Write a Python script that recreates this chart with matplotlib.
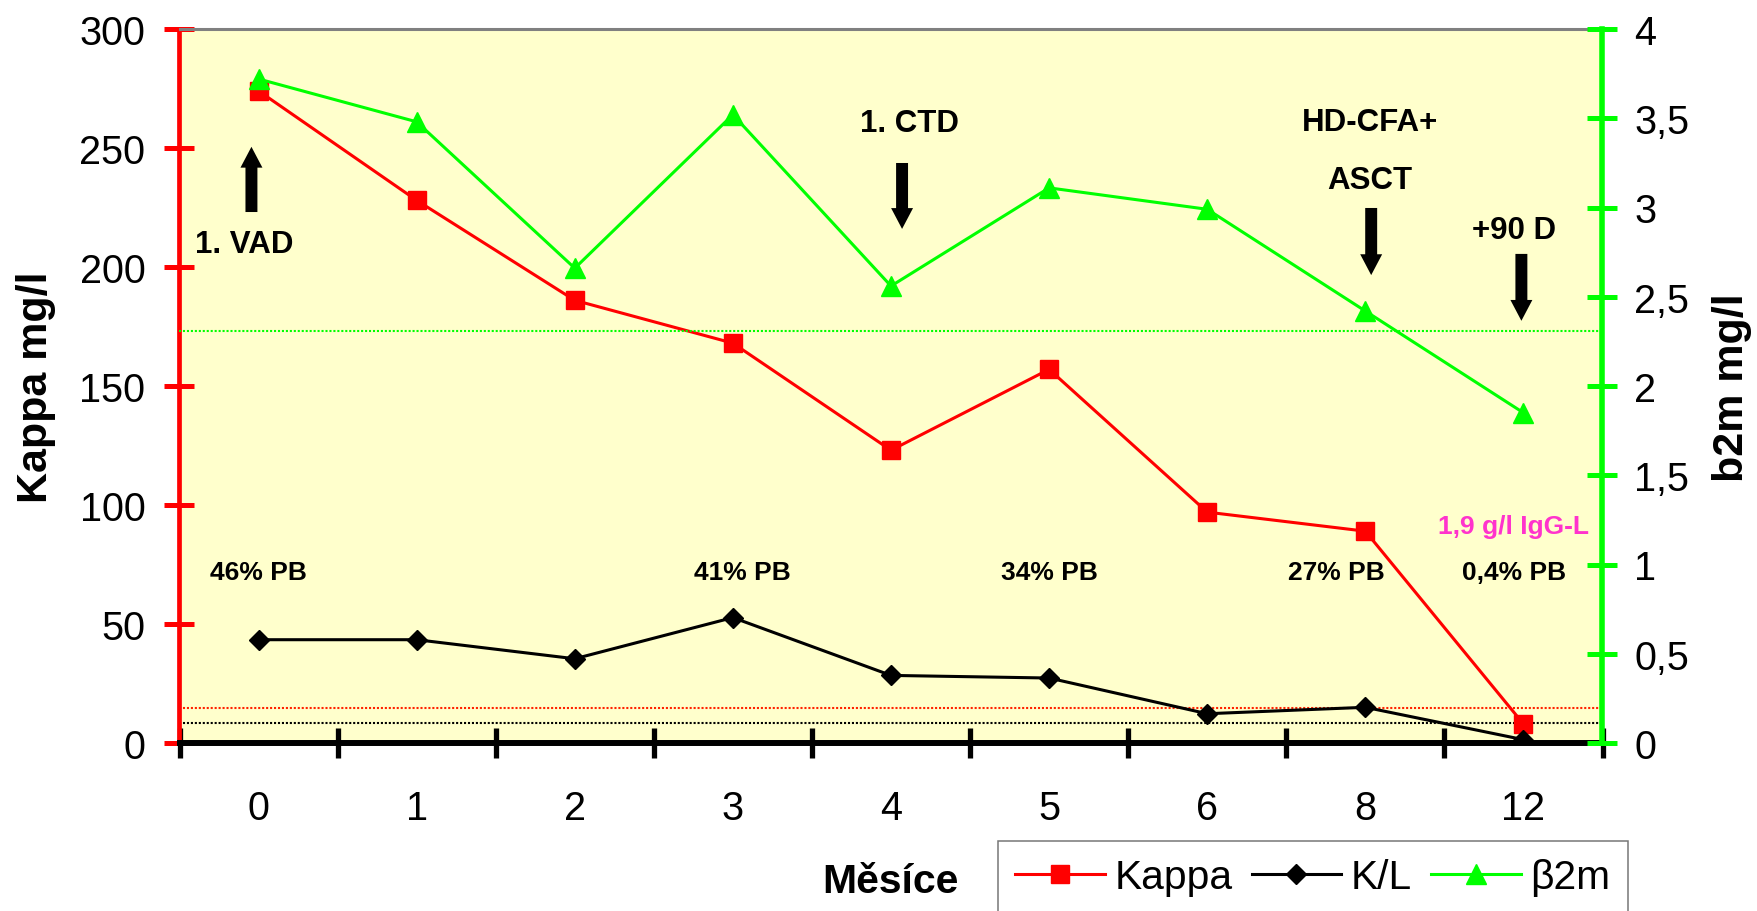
import matplotlib
matplotlib.use('Agg')
import matplotlib.pyplot as plt
import numpy as np

# ---------------- data ----------------
months = ['0', '1', '2', '3', '4', '5', '6', '8', '12']
kappa = [274, 228, 186, 168, 123, 157, 97, 89, 8]
kl_ratio = [43.4, 43.4, 35.4, 52.7, 28.4, 27.3, 12.3, 15.0, 1.4]
b2m = [3.72, 3.48, 2.66, 3.52, 2.56, 3.11, 2.99, 2.42, 1.85]

kappa_ref = 14.6
kl_ref = 8.3
b2m_ref = 2.31

left_ticks = [0, 50, 100, 150, 200, 250, 300]
right_ticks = [0, 0.5, 1, 1.5, 2, 2.5, 3, 3.5, 4]
right_ticklabels = ['0', '0,5', '1', '1,5', '2', '2,5', '3', '3,5', '4']

series_labels = ['Kappa', 'K/L', 'β2m']

# annotations (text, x in category units, baseline y in Kappa units)
event_texts = [('1. VAD', -0.09, 206.3), ('1. CTD', 4.12, 257.0),
               ('HD-CFA+', 7.03, 257.4), ('ASCT', 7.03, 233.3),
               ('+90 D', 7.94, 212.3)]
# arrows (x, tail y, tip y) in category / Kappa units
event_arrows = [(-0.045, 223.1, 250.5), (4.07, 243.7, 216.0),
                (7.037, 224.8, 196.6), (7.987, 205.5, 177.4)]
pb_labels = ['46% PB', '41% PB', '34% PB', '27% PB', '0,4% PB']
pb_x = [0.0, 3.06, 5.0, 6.82, 7.94]
pb_y = 69.0
igg_text = '1,9 g/l IgG-L'
igg_pos = (7.94, 88.2)

# ---------------- figure ----------------
plt.rcParams['font.family'] = ['Liberation Sans', 'DejaVu Sans']
W, H = 1758, 912
fig = plt.figure(figsize=(W / 100, H / 100), dpi=100)
L, R, T, B = 179.5, 1602.5, 30, 744
ax = fig.add_axes([L / W, 1 - B / H, (R - L) / W, (B - T) / H])
ax.set_facecolor('#FFFFCC')
x = np.arange(len(months))
ax.set_xlim(-0.5, len(months) - 0.5)
ax.set_ylim(0, 300)

ax2 = ax.twinx()
ax2.set_ylim(0, 4)

dot = (0, (1, 0.9))
ax.axhline(kappa_ref, color='#FF2200', ls=dot, lw=1.5, zorder=1)
ax.axhline(kl_ref, color='black', ls=dot, lw=1.5, zorder=1)
ax2.axhline(b2m_ref, color='#00FF00', ls=dot, lw=1.5, zorder=1)

l1, = ax.plot(x, kappa, color='#FF0000', lw=2.2, marker='s', ms=12.5,
              label=series_labels[0], zorder=3)
l2, = ax.plot(x, kl_ratio, color='black', lw=2.2, marker='D', ms=10,
              label=series_labels[1], zorder=3)
l3, = ax2.plot(x, b2m, color='#00FF00', lw=2.2, marker='^', ms=14.5,
               label=series_labels[2], zorder=3)

# spines
ax.spines['top'].set_color('#808080')
ax.spines['top'].set_linewidth(2.2)
ax.spines['left'].set_color('#FF0000')
ax.spines['left'].set_linewidth(3.4)
ax.spines['bottom'].set_color('black')
ax.spines['bottom'].set_linewidth(4.3)
ax.spines['bottom'].set_zorder(5)
ax.spines['right'].set_visible(False)
for s in ['left', 'top', 'bottom']:
    ax2.spines[s].set_visible(False)
ax2.spines['right'].set_color('#00FF00')
ax2.spines['right'].set_linewidth(4.0)

# ticks
ax.set_yticks(left_ticks)
ax.tick_params(axis='y', direction='inout', length=21.6, width=3.6,
               color='#FF0000', labelsize=28.5, pad=13.7)
ax2.set_yticks(right_ticks)
ax2.set_yticklabels(right_ticklabels)
ax2.tick_params(axis='y', direction='inout', length=21.6, width=3.6,
                color='#00FF00', labelsize=28.5, pad=12.2)
ax.set_xticks(x)
ax.set_xticklabels(months)
ax.tick_params(axis='x', which='major', length=0, labelsize=28.5, pad=33)
ax.set_xticks(np.arange(-0.5, len(months)), minor=True)
ax.tick_params(axis='x', which='minor', direction='inout', length=21.6,
               width=3.8, color='black')

# annotations
for txt, tx, ty in event_texts:
    ax.text(tx, ty, txt, ha='center', va='baseline', fontsize=22.5,
            fontweight='bold', color='black', zorder=6)
for axx, y0, y1 in event_arrows:
    ax.annotate('', xy=(axx, y1), xytext=(axx, y0),
                arrowprops=dict(arrowstyle='simple,head_length=15,head_width=15.8,tail_width=8.6',
                                mutation_scale=1, color='black', lw=0,
                                shrinkA=0, shrinkB=0), zorder=6)
for lbl, px in zip(pb_labels, pb_x):
    ax.text(px, pb_y, lbl, ha='center', va='baseline', fontsize=19,
            fontweight='bold', color='black', zorder=6)
ax.text(igg_pos[0], igg_pos[1], igg_text, ha='center', va='baseline',
        fontsize=19, fontweight='bold', color='#FF33CC', zorder=6)

# axis titles
fig.text(36 / W, 1 - 387 / H, 'Kappa mg/l', rotation=90, fontsize=31,
         fontweight='bold', ha='center', va='center')
fig.text(1732 / W, 1 - 388 / H, 'b2m mg/l', rotation=90, fontsize=31,
         fontweight='bold', ha='center', va='center')
fig.text(890 / W, 1 - 893 / H, 'Měsíce', fontsize=29.5, fontweight='bold',
         ha='center', va='baseline')

# legend
leg = fig.legend([l1, l2, l3], series_labels, loc='upper left',
                 bbox_to_anchor=(998 / W, 1 - 842 / H), ncol=3,
                 fontsize=29.3, frameon=True, fancybox=False, shadow=False,
                 borderaxespad=0, borderpad=0.42, handlelength=2.2,
                 handletextpad=0.24, columnspacing=0.47, numpoints=1)
leg.get_frame().set_edgecolor('#555555')
leg.get_frame().set_linewidth(1.1)

fig.savefig('out.png', dpi=100)
